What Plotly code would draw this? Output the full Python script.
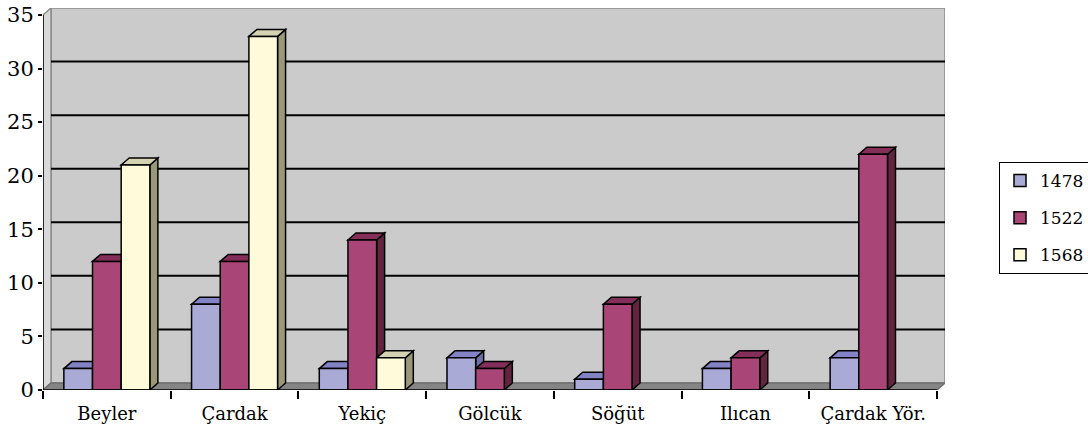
import plotly.graph_objects as go

categories = ["Beyler", "Çardak", "Yekiç", "Gölcük", "Söğüt", "Ilıcan", "Çardak Yör."]
series_names = ["1478", "1522", "1568"]
v1478 = [2, 8, 2, 3, 1, 2, 3]
v1522 = [12, 12, 14, 2, 8, 3, 22]
v1568 = [21, 33, 3, None, None, None, None]
y_ticks = [0, 5, 10, 15, 20, 25, 30, 35]

series_values = [v1478, v1522, v1568]
front_colors = ["#AAAAD6", "#AA4677", "#FFFADA"]
top_colors = ["#8282C4", "#832F5A", "#D4D2B0"]
side_colors = ["#6E6EA8", "#62243F", "#9A9878"]

# page body margin is removed via post_script, so figure pixels == window pixels
W, H = 1088, 434
L = 43
T = 8
R = W - 945
B = H - 390
plot_w = W - L - R
plot_h = H - T - B
depth_px_x, depth_px_y = 8, 7
px_per_cat = (plot_w - depth_px_x) / len(categories)
DX = depth_px_x / px_per_cat
ymax = 35
px_per_unit = (390 - 15) / ymax
DY = depth_px_y / px_per_unit
y_top = plot_h / px_per_unit

bargap = 1 - 86 / px_per_cat
bw = (1 - bargap) / 3

fig = go.Figure()
shapes = []
x0, x1 = -0.5, len(categories) - 0.5

# back wall
shapes.append(dict(type="rect", xref="x", yref="y", x0=x0 + DX, x1=x1 + DX, y0=DY, y1=ymax + DY,
                   fillcolor="#CBCBCB", line=dict(color="#8C8C8C", width=1.5), layer="below"))
# left wall
shapes.append(dict(type="path", xref="x", yref="y",
                   path=f"M{x0},0 L{x0},{ymax} L{x0+DX},{ymax+DY} L{x0+DX},{DY} Z",
                   fillcolor="#D9D9D9", line=dict(color="#8C8C8C", width=1.5), layer="below"))
# floor
shapes.append(dict(type="path", xref="x", yref="y",
                   path=f"M{x0},0 L{x1},0 L{x1+DX},{DY} L{x0+DX},{DY} Z",
                   fillcolor="#858585", line=dict(color="#707070", width=1.5), layer="below"))
# gridlines on back wall
for v in y_ticks[1:-1]:
    shapes.append(dict(type="line", xref="x", yref="y", x0=x0 + DX, x1=x1 + DX, y0=v + DY, y1=v + DY,
                       line=dict(color="black", width=2), layer="below"))

# bar side and top faces
for i in range(len(categories)):
    for j, vals in enumerate(series_values):
        v = vals[i]
        if v is None:
            continue
        left = i - (1 - bargap) / 2 + j * bw
        right = left + bw
        shapes.append(dict(type="path", xref="x", yref="y",
                           path=f"M{right},0 L{right+DX},{DY} L{right+DX},{v+DY} L{right},{v} Z",
                           fillcolor=side_colors[j], line=dict(color="black", width=1.5), layer="below"))
        shapes.append(dict(type="path", xref="x", yref="y",
                           path=f"M{left},{v} L{left+DX},{v+DY} L{right+DX},{v+DY} L{right},{v} Z",
                           fillcolor=top_colors[j], line=dict(color="black", width=1.5), layer="below"))

# axis lines (front plane)
shapes.append(dict(type="line", xref="x", yref="y", x0=x0, x1=x1, y0=0, y1=0,
                   line=dict(color="black", width=1.5), layer="above"))
shapes.append(dict(type="line", xref="x", yref="y", x0=x0, x1=x0, y0=0, y1=ymax,
                   line=dict(color="black", width=1.5), layer="above"))

for j, name in enumerate(series_names):
    fig.add_trace(go.Bar(
        x=list(range(len(categories))), y=series_values[j], name=name,
        legendgroup=name,
        marker=dict(color=front_colors[j], line=dict(color="black", width=1.5)),
        hoverinfo="skip",
    ))

fig.update_layout(
    width=W, height=H,
    margin=dict(l=L, r=R, t=T, b=B, pad=0, autoexpand=False),
    paper_bgcolor="white", plot_bgcolor="rgba(0,0,0,0)",
    barmode="group", bargap=bargap, bargroupgap=0,
    shapes=shapes,
    showlegend=True,
    legend=dict(
        x=(999 - L) / plot_w, xanchor="left",
        y=(390 - 162) / plot_h, yanchor="top",
        bordercolor="black", borderwidth=1, bgcolor="white",
        font=dict(family="DejaVu Serif", size=17, color="black"),
        tracegroupgap=12, traceorder="grouped", itemwidth=30,
    ),
    xaxis=dict(
        range=[x0, x1 + DX], showgrid=False, zeroline=False, showline=False,
        automargin=False,
        tickmode="array", tickvals=list(range(len(categories))), ticktext=categories,
        ticks="outside", ticklen=0, ticklabelstandoff=7,
        tickfont=dict(family="DejaVu Serif", size=18, color="black"),
        minor=dict(tickmode="array", tickvals=[k - 0.5 for k in range(len(categories) + 1)],
                   ticks="outside", ticklen=8, tickwidth=1.5, tickcolor="black"),
        fixedrange=True,
    ),
    yaxis=dict(
        range=[0, y_top], showgrid=False, zeroline=False, showline=False,
        automargin=False, ticklabeloverflow="allow",
        tickmode="array", tickvals=y_ticks,
        ticks="outside", ticklen=4, tickwidth=1.5, tickcolor="black",
        tickfont=dict(family="DejaVu Serif", size=21, color="black"),
        fixedrange=True,
    ),
)

fig.write_html("out.html", config={"displayModeBar": False},
               post_script="document.body.style.margin='0px';document.body.style.overflow='hidden';")
